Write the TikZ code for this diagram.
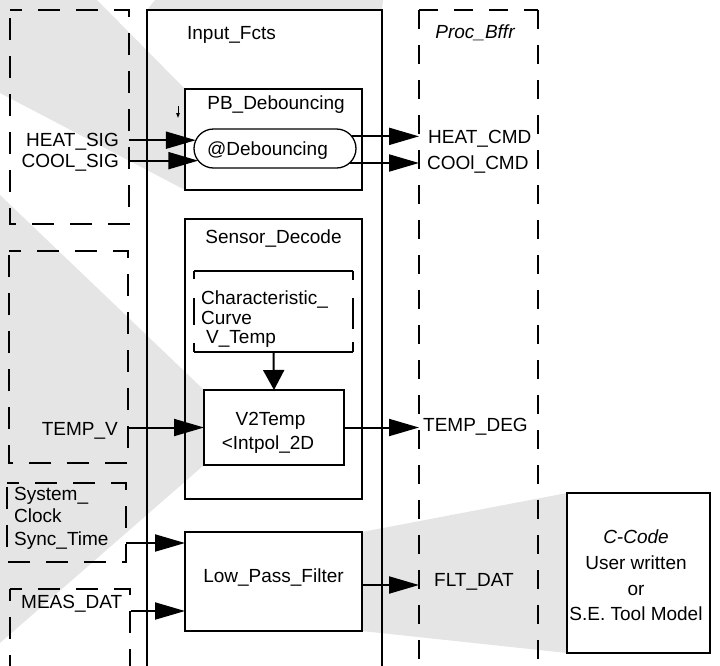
\documentclass[tikz,border=0pt]{standalone}
\usepackage{fontspec}
\setmainfont{Liberation Sans}
\usetikzlibrary{arrows.meta,shapes.misc,backgrounds}
\definecolor{shadegray}{RGB}{229,229,229}
\newcommand\labfont{\fontsize{19}{22}\selectfont}
\begin{document}
\begin{tikzpicture}[x=1pt,y=-1pt,
  frame/.style={line width=2pt},
  dframe/.style={line width=2pt, dash pattern=on 22pt off 16pt, dash phase=10pt},
  pframe/.style={line width=2pt, dash pattern=on 19pt off 16pt},
  box/.style={draw, line width=2pt, inner sep=0pt, outer sep=0pt},
  dbox/.style={inner sep=0pt, outer sep=0pt},
  txt/.style={font=\labfont, inner sep=0pt, text height=13.6pt, text depth=0pt},
  mtxt/.style={inner sep=0pt},
  arr/.style={line width=2pt, -{Triangle[length=30pt,width=17pt]}},
  arrs/.style={line width=2pt, -{Triangle[length=20pt,width=21pt]}},
  shade/.style={fill=shadegray, draw=none}]
\useasboundingbox (0,0) rectangle (720,665);

% source boxes (left)
\node[dbox, minimum width=119pt, minimum height=214pt] (srcA) at (69.5,117) {};
\node[dbox, minimum width=119pt, minimum height=212pt] (srcB) at (68.5,357) {};
\node[dbox, minimum width=119pt, minimum height=79pt] (srcC) at (66.5,522.5) {};
\foreach \b in {srcA,srcB,srcC}{
  \draw[dframe] (\b.north west) -- (\b.north east) -- (\b.south east) -- (\b.south west) -- cycle;
}
\coordinate (dBL) at (10,668); \coordinate (dTL) at (10,589);
\coordinate (dTR) at (130,589); \coordinate (dBR) at (130,668);
\draw[dframe] (dTL) -- (dBL);
\draw[dframe] (dTL) -- (dTR) -- (dBR);

% Input_Fcts frame
\coordinate (inBL) at (147,668); \coordinate (inTL) at (147,10);
\coordinate (inTR) at (382,10); \coordinate (inBR) at (382,668);
\draw[frame] (inBL) -- (inTL) -- (inTR) -- (inBR);
\node[txt] (inlbl) at (231.5,33) {Input\_Fcts};

% Proc_Bffr frame
\coordinate (pbBL) at (419,668); \coordinate (pbTL) at (419,10);
\coordinate (pbTR) at (538,10); \coordinate (pbBR) at (538,668);
\draw[pframe] (pbTL) -- (pbBL);
\draw[pframe] (pbTL) -- (pbTR);
\draw[pframe] (pbTR) -- (pbBR);
\node[txt, font=\labfont\itshape] (pblbl) at (475,32) {Proc\_Bffr};

% PB_Debouncing
\node[box, minimum width=177pt, minimum height=101pt] (pb) at (273.5,139.5) {};
\node[txt] (pbl) at (276,102.5) {PB\_Debouncing};
\node[draw, line width=1.3pt, rounded rectangle, minimum width=162pt, minimum height=39pt, inner sep=0pt, outer sep=0pt] (stad) at (275,148.5) {};
\node[txt] (debl) at (267.5,148.3) {@Debouncing};
\coordinate (tk1) at (178,106); \coordinate (tk2) at (178,118);
\draw[line width=1pt, -{Triangle[length=5pt,width=3.5pt]}] (tk1) -- (tk2);

\node[txt, anchor=east] (hsig) at (119,140) {HEAT\_SIG};
\node[txt, anchor=east] (csig) at (119,160.5) {COOL\_SIG};
\draw[arr] (srcA.east |- stad.174) -- (stad.174);
\draw[arr] (srcA.east |- stad.189) -- (stad.189);

\node[txt, anchor=west] (hcmd) at (428,136.7) {HEAT\_CMD};
\node[txt, anchor=west] (ccmd) at (427,162.3) {COOl\_CMD};
\draw[arr] (stad.9) -- (stad.9 -| pbTL);
\draw[arr] (stad.349) -- (stad.349 -| pbTL);

% Sensor_Decode
\node[box, minimum width=177pt, minimum height=280pt] (sd) at (273.5,359) {};
\node[txt] (sdl) at (273.5,236.7) {Sensor\_Decode};
\node[inner sep=0pt, outer sep=0pt, minimum width=159pt, minimum height=81pt] (char) at (273.5,311.5) {};
\draw[frame] (char.north west) -- (char.north east);
\draw[frame] (char.south west) -- (char.south east);
\draw[frame] (char.north west) -- ++(0,8);
\draw[frame] ([yshift=-27pt]char.north west) -- ++(0,27);
\draw[frame] (char.south west) -- ++(0,-9);
\draw[frame] (char.north east) -- ++(0,9);
\draw[frame] ([yshift=-27pt]char.north east) -- ++(0,31);
\draw[frame] (char.south east) -- ++(0,-10);
\node[mtxt, font=\fontsize{19}{19.5}\selectfont, align=left, anchor=north west] (chartxt) at (201,291) {Characteristic\_\\Curve\\\hspace*{5pt}V\_Temp};

\node[box, minimum width=140pt, minimum height=75pt] (v2t) at (274,427.5) {};
\node[txt] (v2a) at (270.5,418.5) {V2Temp};
\node[txt] (v2b) at (268,442.5) {<Intpol\_2D};
\draw[arrs] (char.south) -- (v2t.north);

\node[txt, anchor=east] (tv) at (118,429) {TEMP\_V};
\draw[arr] (srcB.east |- v2t.west) -- (v2t.west);
\node[txt, anchor=west] (tdeg) at (423,425) {TEMP\_DEG};
\draw[arr] (v2t.east) -- (v2t.east -| pbTL);

% Low pass filter
\node[box, minimum width=177pt, minimum height=99pt] (lpf) at (273.5,581.5) {};
\node[txt] (lpfl) at (273.5,576) {Low\_Pass\_Filter};
\node[mtxt, font=\fontsize{19}{22.2}\selectfont, align=left, anchor=north west] (sysl) at (14,487.3) {System\_\\Clock\\Sync\_Time};
\node[txt, anchor=west] (meas) at (21,602) {MEAS\_DAT};
\coordinate (syncy) at (0,543);
\draw[arr] (srcC.east |- syncy) -- (lpf.west |- syncy);
\coordinate (measo) at (131,611);
\draw[arr] (measo) -- (lpf.west |- measo);
\coordinate (flty) at (0,585);
\draw[arr] (lpf.east |- flty) -- (pbTL |- flty);
\node[txt, anchor=west] (flt) at (434,580) {FLT\_DAT};

% C-Code box
\node[box, line width=2.3pt, minimum width=143pt, minimum height=160pt] (cc) at (638.5,573) {};
\node[mtxt, font=\fontsize{19}{25.6}\selectfont, align=center, anchor=north] (cct) at (636,530) {\textit{C-Code}\\User written\\or\\S.E. Tool Model};

% shading wedges
\begin{pgfonlayer}{background}
\fill[shade] (0,0) -- (97,0) -- (pb.north west) -- (pb.south west) -- (0,93) -- cycle;
\fill[shade] (155,0) -- (383,0) -- (inTR) -- (inTL) -- cycle;
\fill[shade] (0,195) -- (v2t.north west) -- (v2t.south west) -- (0,643) -- cycle;
\fill[shade] (lpf.north east) -- (cc.north west) -- (cc.south west) -- (lpf.south east) -- cycle;
\end{pgfonlayer}
\end{tikzpicture}
\end{document}
